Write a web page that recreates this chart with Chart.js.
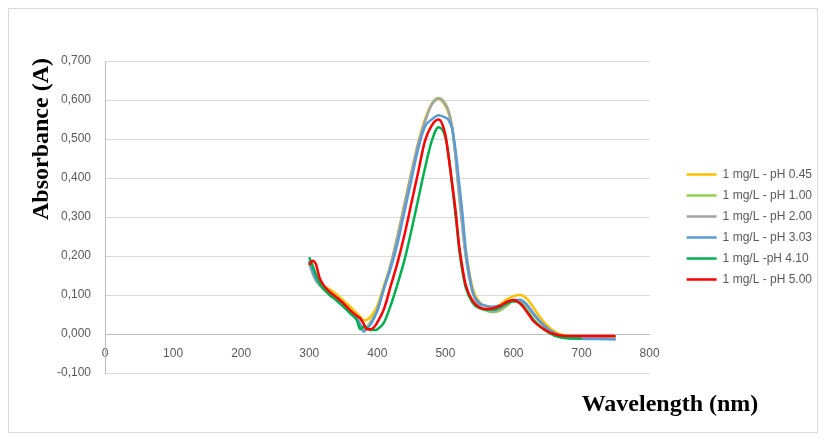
<!DOCTYPE html>
<html>
<head>
<meta charset="utf-8">
<script src="https://cdn.jsdelivr.net/npm/chart.js@4.4.0/dist/chart.umd.min.js"></script>
<style>
  html, body { margin: 0; padding: 0; background: #fff; }
  #wrap { position: relative; width: 826px; height: 441px; }
  #frame { position: absolute; left: 8px; top: 8px; right: 8px; bottom: 8px; border: 1px solid #d9d9d9; }
  #chart { position: absolute; left: 0; top: 0; }
</style>
</head>
<body>
<div id="wrap"><div id="frame"></div><canvas id="chart" width="826" height="441"></canvas></div>
<script>
// wavelengths (nm) shared by all series
var wavelengths = [300, 305, 310, 315, 320, 330, 340, 350, 360, 370, 375, 380, 385, 390, 395, 400,
    410, 420, 430, 440, 450, 460, 470, 480, 490, 500, 505, 510, 515, 520, 525, 530,
    540, 550, 560, 570, 580, 590, 600, 610, 620, 630, 640, 650, 660, 670, 680, 700, 720, 750];

var seriesNames = ['1 mg/L - pH 0.45', '1 mg/L - pH 1.00', '1 mg/L - pH 2.00',
    '1 mg/L - pH 3.03', '1 mg/L -pH 4.10', '1 mg/L - pH 5.00'];
var seriesColors = ['#FFC000', '#92D050', '#A5A5A5', '#5B9BD5', '#00B050', '#FF0000'];

var ph045 = [0.180, 0.160, 0.142, 0.132, 0.124, 0.114, 0.102, 0.086, 0.070, 0.053, 0.044, 0.035, 0.037, 0.044, 0.056, 0.072,
    0.125, 0.180, 0.255, 0.335, 0.415, 0.490, 0.550, 0.590, 0.603, 0.585, 0.565, 0.530, 0.460, 0.370, 0.290, 0.215,
    0.118, 0.082, 0.071, 0.068, 0.075, 0.088, 0.097, 0.100, 0.090, 0.066, 0.041, 0.021, 0.007, -0.002, -0.005, -0.006, -0.007, -0.008];
var ph100 = [0.182, 0.155, 0.136, 0.125, 0.116, 0.103, 0.090, 0.073, 0.056, 0.037, 0.022, 0.012, 0.018, 0.030, 0.045, 0.062,
    0.120, 0.180, 0.250, 0.330, 0.410, 0.485, 0.545, 0.590, 0.605, 0.590, 0.570, 0.530, 0.455, 0.360, 0.275, 0.200,
    0.108, 0.072, 0.060, 0.056, 0.060, 0.072, 0.084, 0.082, 0.068, 0.047, 0.028, 0.013, 0.002, -0.005, -0.008, -0.010, -0.011, -0.012];
var ph200 = [0.185, 0.158, 0.138, 0.127, 0.118, 0.105, 0.092, 0.076, 0.058, 0.038, 0.024, 0.010, 0.016, 0.026, 0.042, 0.060,
    0.118, 0.180, 0.252, 0.332, 0.412, 0.487, 0.545, 0.588, 0.604, 0.588, 0.568, 0.528, 0.452, 0.358, 0.275, 0.198,
    0.106, 0.073, 0.062, 0.058, 0.063, 0.075, 0.085, 0.085, 0.071, 0.049, 0.029, 0.014, 0.003, -0.004, -0.008, -0.010, -0.011, -0.012];
var ph303 = [0.188, 0.160, 0.140, 0.128, 0.119, 0.106, 0.094, 0.078, 0.060, 0.040, 0.024, 0.006, 0.015, 0.024, 0.040, 0.060,
    0.118, 0.170, 0.235, 0.315, 0.395, 0.475, 0.532, 0.550, 0.561, 0.555, 0.548, 0.525, 0.470, 0.390, 0.310, 0.215,
    0.110, 0.080, 0.072, 0.070, 0.073, 0.080, 0.087, 0.088, 0.075, 0.052, 0.031, 0.014, 0.002, -0.006, -0.010, -0.012, -0.013, -0.014];
var ph410 = [0.197, 0.175, 0.152, 0.132, 0.118, 0.100, 0.086, 0.070, 0.053, 0.035, 0.012, 0.020, 0.016, 0.010, 0.010, 0.012,
    0.030, 0.075, 0.130, 0.190, 0.265, 0.345, 0.425, 0.495, 0.530, 0.505, 0.455, 0.380, 0.305, 0.220, 0.160, 0.118,
    0.080, 0.066, 0.062, 0.062, 0.068, 0.078, 0.084, 0.078, 0.058, 0.035, 0.018, 0.006, -0.004, -0.009, -0.011, -0.012, null, null];
var ph500 = [0.177, 0.188, 0.178, 0.145, 0.128, 0.108, 0.094, 0.079, 0.061, 0.046, 0.040, 0.026, 0.012, 0.012, 0.017, 0.030,
    0.065, 0.125, 0.185, 0.255, 0.335, 0.415, 0.495, 0.535, 0.550, 0.510, 0.450, 0.385, 0.315, 0.230, 0.170, 0.125,
    0.085, 0.068, 0.064, 0.066, 0.072, 0.082, 0.087, 0.078, 0.056, 0.032, 0.018, 0.007, 0.000, -0.004, -0.005, -0.005, -0.005, -0.005];

var allSeries = [ph045, ph100, ph200, ph303, ph410, ph500];

var yTicks = { min: -0.1, max: 0.7, step: 0.1 };
var xTicks = { min: 0, max: 800, step: 100 };

function toPoints(values) {
    var pts = [];
    for (var i = 0; i < wavelengths.length; i++) {
        if (values[i] !== null) pts.push({ x: wavelengths[i], y: values[i] });
    }
    return pts;
}

var datasets = allSeries.map(function(values, i) {
    return {
        label: seriesNames[i],
        data: toPoints(values),
        borderColor: seriesColors[i],
        backgroundColor: seriesColors[i],
        borderWidth: 2.5,
        showLine: true,
        pointRadius: 0,
        cubicInterpolationMode: 'monotone',
        order: allSeries.length - i
    };
});

var tickFont = { family: 'Liberation Sans', size: 12 };

var axisTitles = {
    id: 'axisTitles',
    afterDraw: function(chart) {
        var ctx = chart.ctx;
        ctx.save();
        ctx.fillStyle = '#000';
        ctx.font = 'bold 24px "Liberation Serif"';
        ctx.textAlign = 'center';
        ctx.textBaseline = 'middle';
        ctx.fillText('Wavelength (nm)', 670, 405);
        ctx.translate(42, 139);
        ctx.rotate(-Math.PI / 2);
        ctx.fillText('Absorbance (A)', 0, 0);
        ctx.restore();
    }
};

var legendShift = {
    id: 'legendShift',
    afterLayout: function(chart) {
        var lg = chart.legend;
        var dx = 28, dy = 10;
        lg.left += dx; lg.right += dx;
        lg.top += dy; lg.bottom += dy;
    }
};

var chart = new Chart(document.getElementById('chart').getContext('2d'), {
    type: 'scatter',
    data: { datasets: datasets },
    options: {
        responsive: false,
        animation: false,
        layout: { padding: { left: 0, top: 61, right: 32, bottom: 68 } },
        plugins: {
            tooltip: { enabled: false },
            legend: {
                position: 'right',
                labels: {
                    boxWidth: 30,
                    boxHeight: 0,
                    padding: 9,
                    color: '#595959',
                    font: tickFont,
                    sort: function(a, b) { return a.datasetIndex - b.datasetIndex; }
                }
            }
        },
        scales: {
            x: {
                type: 'linear',
                min: xTicks.min,
                max: xTicks.max,
                position: { y: 0 },
                ticks: { stepSize: xTicks.step, padding: 12, color: '#595959', font: tickFont },
                grid: { display: false, drawTicks: false },
                border: { display: true, color: '#bfbfbf' }
            },
            y: {
                min: yTicks.min,
                max: yTicks.max,
                ticks: {
                    stepSize: yTicks.step,
                    padding: 14,
                    color: '#595959',
                    font: tickFont,
                    callback: function(v) {
                        if (Math.abs(v) < 1e-9) v = 0;
                        return v.toFixed(3).replace('.', ',');
                    }
                },
                grid: { color: '#d9d9d9', drawTicks: false },
                border: { display: true, color: '#bfbfbf' },
                afterFit: function(s) { s.width = 105; }
            }
        }
    },
    plugins: [axisTitles, legendShift]
});
</script>
</body>
</html>
